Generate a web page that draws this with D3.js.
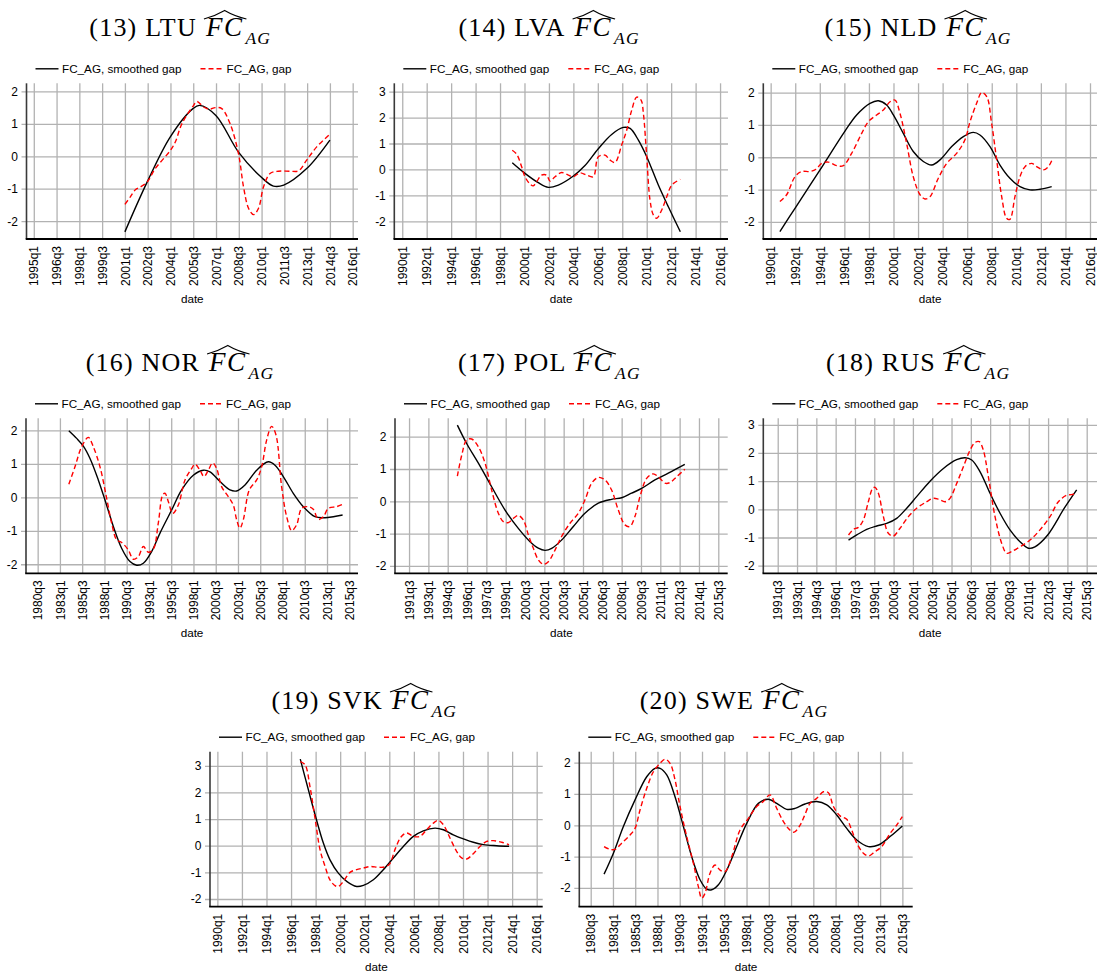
<!DOCTYPE html>
<html><head><meta charset="utf-8">
<script src="https://cdn.jsdelivr.net/npm/d3@7"></script>
<style>body{margin:0;background:#fff}svg{display:block}</style>
</head><body><svg id="c" width="1097" height="976"></svg>
<script>
// ---------------- DATA ----------------
const panelNums = ["(13)","(14)","(15)","(16)","(17)","(18)","(19)","(20)"];
const countries = ["LTU","LVA","NLD","NOR","POL","RUS","SVK","SWE"];
const seriesNames = ["FC_AG, smoothed gap","FC_AG, gap"];
const xTitle = "date";

const ticksA = ["1995q1","1996q3","1998q1","1999q3","2001q1","2002q3","2004q1","2005q3","2007q1","2008q3","2010q1","2011q3","2013q1","2014q3","2016q1"];
const ticksB = ["1990q1","1992q1","1994q1","1996q1","1998q1","2000q1","2002q1","2004q1","2006q1","2008q1","2010q1","2012q1","2014q1","2016q1"];
const ticksC = ["1980q3","1983q1","1985q3","1988q1","1990q3","1993q1","1995q3","1998q1","2000q3","2003q1","2005q3","2008q1","2010q3","2013q1","2015q3"];
const ticksD = ["1991q3","1993q1","1994q3","1996q1","1997q3","1999q1","2000q3","2002q1","2003q3","2005q1","2006q3","2008q1","2009q3","2011q1","2012q3","2014q1","2015q3"];
const yTicks2 = [-2,-1,0,1,2];
const yTicks3 = [-2,-1,0,1,2,3];

// LTU
const ltuSmoothT = [2001.0,2002.47,2003.99,2005.48,2005.92,2006.99,2008.48,2009.97,2010.78,2011.46,2012.97,2014.5];
const ltuSmoothV = [-2.33,-0.79,0.6,1.47,1.57,1.26,0.13,-0.64,-0.92,-0.89,-0.38,0.5];
const ltuGapT = [2001.0,2001.36,2001.69,2002.01,2002.47,2003.0,2003.99,2004.32,2004.75,2005.48,2005.74,2006.18,2006.55,2006.95,2007.38,2007.93,2008.48,2008.81,2009.14,2009.47,2009.8,2010.13,2010.56,2011.11,2011.88,2012.43,2012.97,2013.63,2014.5];
const ltuGapV = [-1.48,-1.25,-1.03,-0.95,-0.79,-0.38,0.18,0.44,1.0,1.54,1.69,1.52,1.45,1.5,1.47,1.0,0.08,-0.94,-1.6,-1.8,-1.6,-0.94,-0.53,-0.46,-0.46,-0.45,-0.12,0.29,0.68];
// LVA
const lvaSmoothT = [1999.0,2000.04,2001.13,2001.95,2002.77,2004.0,2004.95,2006.04,2007.13,2008.09,2008.64,2009.32,2010.0,2010.95,2011.77,2012.75];
const lvaSmoothV = [0.26,-0.15,-0.51,-0.69,-0.6,-0.25,0.15,0.8,1.35,1.62,1.58,1.13,0.49,-0.6,-1.44,-2.4];
const lvaGapT = [1999.0,1999.36,1999.77,2000.04,2000.45,2000.72,2001.0,2001.4,2001.81,2002.09,2002.5,2003.04,2003.59,2004.0,2004.54,2005.09,2005.63,2006.04,2006.59,2007.0,2007.41,2007.95,2008.36,2008.77,2009.18,2009.54,2009.73,2010.0,2010.27,2010.55,2010.82,2011.23,2011.64,2012.05,2012.75];
const lvaGapV = [0.74,0.59,0.1,-0.28,-0.56,-0.63,-0.47,-0.22,-0.22,-0.45,-0.28,-0.12,-0.22,-0.28,-0.13,-0.22,-0.28,0.49,0.55,0.36,0.27,0.94,1.51,2.28,2.79,2.67,2.15,0.49,-1.18,-1.76,-1.88,-1.56,-1.05,-0.6,-0.38];
// NLD
const nldSmoothT = [1990.75,1991.98,1994.02,1996.05,1997.0,1998.09,1998.77,1999.44,1999.99,2000.8,2001.61,2002.43,2003.11,2003.79,2004.74,2005.69,2006.5,2007.04,2007.86,2008.67,2009.48,2010.3,2011.11,2011.93,2012.88];
const nldSmoothV = [-2.3,-1.58,-0.39,0.81,1.31,1.67,1.75,1.62,1.31,0.74,0.18,-0.13,-0.24,-0.08,0.33,0.64,0.77,0.69,0.33,-0.24,-0.65,-0.91,-1.01,-0.99,-0.91];
const nldGapT = [1990.75,1991.3,1991.98,1992.52,1993.2,1993.69,1994.15,1994.69,1995.37,1995.92,1996.59,1997.41,1997.95,1998.63,1999.17,1999.72,2000.12,2000.53,2001.07,2001.61,2002.16,2002.56,2002.97,2003.65,2004.33,2005.14,2005.82,2006.23,2006.77,2007.18,2007.59,2007.99,2008.4,2008.81,2009.21,2009.48,2009.89,2010.3,2010.71,2011.25,2011.66,2012.2,2012.61,2012.88];
const nldGapV = [-1.37,-1.16,-0.6,-0.44,-0.44,-0.37,-0.19,-0.15,-0.26,-0.26,0.12,0.74,1.1,1.31,1.46,1.72,1.77,1.36,0.43,-0.6,-1.16,-1.29,-1.22,-0.65,-0.19,0.12,0.54,1.1,1.67,2.0,1.88,1.05,-0.08,-1.22,-1.89,-1.92,-1.22,-0.6,-0.29,-0.19,-0.29,-0.39,-0.29,-0.11];
// NOR
const norSmoothT = [1984.0,1984.88,1985.63,1986.38,1987.31,1988.06,1989.0,1989.93,1990.87,1991.62,1992.37,1993.3,1994.24,1995.55,1996.67,1997.98,1999.11,1999.86,2000.98,2002.1,2002.85,2003.79,2005.1,2006.41,2007.16,2008.09,2009.21,2010.34,2011.65,2012.77,2013.71,2014.75];
const norSmoothV = [1.99,1.76,1.53,1.16,0.52,-0.08,-0.87,-1.52,-1.92,-2.03,-1.97,-1.62,-1.07,-0.38,0.22,0.66,0.81,0.76,0.47,0.22,0.19,0.37,0.81,1.06,0.96,0.62,0.12,-0.28,-0.58,-0.61,-0.58,-0.53];
const norGapT = [1984.0,1984.69,1985.44,1986.19,1986.75,1987.5,1988.25,1988.81,1989.37,1989.93,1990.68,1991.24,1991.81,1992.37,1992.93,1993.49,1994.05,1994.54,1994.8,1995.18,1995.66,1996.3,1997.05,1997.8,1998.17,1998.73,1999.18,1999.67,2000.16,2000.6,2001.16,2001.91,2002.47,2002.85,2003.22,2003.6,2004.27,2005.1,2005.66,2006.22,2006.78,2007.27,2007.9,2008.47,2009.03,2009.59,2010.15,2010.9,2011.46,2012.02,2012.59,2013.15,2014.08,2014.75];
const norGapV = [0.39,0.91,1.51,1.79,1.51,0.91,-0.03,-0.77,-1.27,-1.35,-1.57,-1.85,-1.77,-1.47,-1.64,-1.55,-0.77,0.07,0.12,-0.13,-0.48,-0.23,0.52,0.86,0.99,0.81,0.62,0.81,1.03,0.86,0.32,0.02,-0.23,-0.67,-0.92,-0.67,0.22,0.52,0.91,1.71,2.12,1.86,0.32,-0.58,-0.99,-0.82,-0.33,-0.28,-0.36,-0.66,-0.58,-0.33,-0.28,-0.21];
// POL
const polSmoothT = [1995.25,1995.97,1996.88,1997.91,1998.95,1999.98,2000.89,2001.53,2002.05,2002.57,2003.34,2004.25,2005.15,2006.19,2007.22,2008.0,2008.77,2009.55,2010.58,2011.62,2012.9];
const polSmoothV = [2.36,1.79,1.18,0.45,-0.27,-0.84,-1.25,-1.45,-1.52,-1.46,-1.2,-0.78,-0.37,-0.06,0.06,0.11,0.25,0.4,0.66,0.87,1.14];
const polGapT = [1995.25,1995.59,1995.97,1996.36,1996.88,1997.4,1997.91,1998.43,1998.82,1999.21,1999.59,1999.98,2000.37,2000.76,2001.14,2001.53,2001.92,2002.31,2002.83,2003.34,2003.99,2004.64,2005.15,2005.67,2006.19,2006.71,2007.22,2007.74,2008.26,2008.64,2009.03,2009.42,2009.94,2010.45,2010.97,2011.36,2011.75,2012.27,2012.9];
const polGapV = [0.78,1.43,1.9,1.93,1.69,1.18,0.35,-0.37,-0.63,-0.66,-0.53,-0.44,-0.58,-1.04,-1.45,-1.81,-1.95,-1.87,-1.51,-1.09,-0.68,-0.37,0.04,0.56,0.74,0.66,0.35,-0.27,-0.73,-0.78,-0.47,0.14,0.71,0.85,0.71,0.56,0.58,0.76,0.99];
// RUS
const rusSmoothT = [1997.0,1997.64,1998.41,1999.19,1999.96,2000.74,2001.52,2002.29,2003.33,2004.37,2005.4,2006.05,2006.57,2007.21,2007.99,2008.77,2009.54,2010.32,2010.97,2011.48,2012.47,2013.76,2014.72];
const rusSmoothV = [-1.09,-0.91,-0.71,-0.59,-0.5,-0.32,0.04,0.45,1.0,1.45,1.76,1.83,1.75,1.34,0.57,-0.14,-0.73,-1.15,-1.38,-1.33,-0.91,0.04,0.69];
const rusGapT = [1997.0,1997.38,1997.76,1998.15,1998.54,1998.88,1999.06,1999.32,1999.71,2000.09,2000.48,2001.0,2001.65,2002.29,2003.07,2003.59,2003.98,2004.5,2004.88,2005.4,2005.92,2006.44,2006.82,2007.16,2007.47,2007.86,2008.38,2008.9,2009.28,2009.67,2010.32,2011.1,2011.87,2012.65,2013.3,2013.94,2014.3,2014.72];
const rusGapV = [-0.91,-0.71,-0.64,-0.38,0.27,0.75,0.78,0.57,-0.26,-0.85,-0.95,-0.67,-0.26,0.04,0.27,0.39,0.36,0.27,0.39,0.92,1.51,2.1,2.37,2.4,2.1,1.16,-0.26,-1.21,-1.56,-1.5,-1.33,-1.09,-0.73,-0.26,0.27,0.5,0.52,0.57];
// SVK
const svkSmoothT = [1996.75,1997.41,1998.03,1998.63,1999.17,1999.85,2000.53,2001.34,2001.89,2002.7,2003.51,2004.33,2005.14,2005.96,2006.77,2007.72,2008.4,2009.21,2010.03,2010.84,2011.66,2012.74,2013.75];
const svkSmoothV = [3.25,2.1,1.04,0.1,-0.53,-1.03,-1.34,-1.53,-1.49,-1.28,-0.9,-0.46,-0.03,0.35,0.56,0.66,0.6,0.41,0.26,0.13,0.04,0.0,-0.02];
const svkGapT = [1996.75,1997.14,1997.54,1997.95,1998.36,1998.77,1999.17,1999.58,1999.85,2000.26,2000.8,2001.34,2001.89,2002.43,2003.11,2003.6,2004.0,2004.5,2004.95,2005.41,2005.96,2006.5,2007.04,2007.59,2007.99,2008.4,2008.94,2009.48,2009.89,2010.3,2010.84,2011.38,2011.93,2012.47,2013.15,2013.75];
const svkGapV = [3.16,3.04,2.22,1.04,-0.15,-0.78,-1.28,-1.5,-1.53,-1.34,-1.0,-0.9,-0.84,-0.78,-0.81,-0.8,-0.7,-0.1,0.33,0.48,0.35,0.35,0.6,0.85,0.95,0.79,0.29,-0.21,-0.46,-0.5,-0.3,-0.03,0.16,0.19,0.13,0.04];
// SWE
const sweSmoothT = [1982.0,1983.05,1984.17,1985.48,1986.79,1987.73,1988.29,1989.04,1989.97,1990.91,1991.84,1992.78,1993.53,1994.09,1994.84,1995.78,1996.9,1998.02,1999.33,2000.46,2001.39,2002.51,2003.45,2004.57,2005.88,2007.01,2008.13,2009.25,2010.38,2011.69,2012.81,2014.12,2015.5];
const sweSmoothV = [-1.56,-0.89,-0.04,0.81,1.55,1.82,1.82,1.61,0.91,-0.04,-1.0,-1.74,-2.04,-2.06,-1.9,-1.43,-0.68,0.06,0.7,0.83,0.7,0.51,0.54,0.68,0.76,0.65,0.33,-0.1,-0.47,-0.68,-0.63,-0.36,-0.02];
const sweGapT = [1982.0,1982.67,1983.23,1983.98,1984.92,1985.48,1986.04,1986.79,1987.54,1988.29,1988.85,1989.41,1989.97,1990.53,1991.28,1992.03,1992.59,1992.97,1993.34,1993.9,1994.46,1995.03,1995.59,1996.34,1997.27,1998.21,1999.14,1999.89,2000.64,2001.39,2002.14,2002.8,2003.35,2004.0,2004.5,2005.13,2005.88,2006.63,2007.19,2007.76,2008.5,2009.25,2009.81,2010.38,2011.12,2011.69,2012.43,2013.18,2014.12,2014.87,2015.5];
const sweGapV = [-0.68,-0.77,-0.77,-0.57,-0.31,-0.1,0.49,1.18,1.71,1.98,2.11,1.98,1.45,0.6,-0.36,-1.21,-1.96,-2.33,-2.17,-1.53,-1.27,-1.43,-1.48,-1.0,-0.15,0.22,0.6,0.76,0.97,0.54,0.12,-0.13,-0.22,0.0,0.3,0.7,0.86,1.07,1.04,0.6,0.3,0.19,-0.15,-0.57,-0.89,-0.98,-0.84,-0.68,-0.26,0.01,0.28];

// ---------------- LAYOUT (positions / axis ranges) ----------------
const boxes = [
  {left:26.5, right:358,  top:83.3,  bottom:239,   xr:[1994.52,2016.35], yr:[-2.55,2.25], tb:36},
  {left:394.3,right:728,  top:83.3,  bottom:239,   xr:[1989.35,2016.65], yr:[-2.68,3.32], tb:36},
  {left:763.3,right:1097, top:83.3,  bottom:239,   xr:[1989.4,2016.57],  yr:[-2.53,2.29], tb:36},
  {left:26,   right:358,  top:418.3, bottom:573.3, xr:[1979.19,2016.48], yr:[-2.27,2.36], tb:371},
  {left:395,  right:727.7,top:418.3, bottom:573.3, xr:[1990.41,2016.23], yr:[-2.23,2.57], tb:371},
  {left:763.3,right:1097, top:418.3, bottom:573.3, xr:[1990.38,2016.3],  yr:[-2.27,3.23], tb:371},
  {left:210,  right:542.7,top:751.7, bottom:906.7, xr:[1989.4,2016.49],  yr:[-2.29,3.53], tb:709},
  {left:579.3,right:912.7,top:751.7, bottom:906.7, xr:[1979.22,2016.66], yr:[-2.6,2.35],  tb:709}
];

const panels = [
  {xTicks:ticksA, yTicks:yTicks2, sT:ltuSmoothT, sV:ltuSmoothV, gT:ltuGapT, gV:ltuGapV},
  {xTicks:ticksB, yTicks:yTicks3, sT:lvaSmoothT, sV:lvaSmoothV, gT:lvaGapT, gV:lvaGapV},
  {xTicks:ticksB, yTicks:yTicks2, sT:nldSmoothT, sV:nldSmoothV, gT:nldGapT, gV:nldGapV},
  {xTicks:ticksC, yTicks:yTicks2, sT:norSmoothT, sV:norSmoothV, gT:norGapT, gV:norGapV},
  {xTicks:ticksD, yTicks:yTicks2, sT:polSmoothT, sV:polSmoothV, gT:polGapT, gV:polGapV},
  {xTicks:ticksD, yTicks:yTicks3, sT:rusSmoothT, sV:rusSmoothV, gT:rusGapT, gV:rusGapV},
  {xTicks:ticksB, yTicks:yTicks3, sT:svkSmoothT, sV:svkSmoothV, gT:svkGapT, gV:svkGapV},
  {xTicks:ticksC, yTicks:yTicks2, sT:sweSmoothT, sV:sweSmoothV, gT:sweGapT, gV:sweGapV}
];

// ---------------- DRAW ----------------
const svg = d3.select("#c");
const SANS = "'Liberation Sans', Arial, Helvetica, sans-serif";
const SERIF = "'Liberation Serif', 'Times New Roman', serif";
const GRID = "#b2b2b2";
const FS = 11.7;
const q = s => { const m = /^(\d{4})q([1-4])$/.exec(s); return +m[1] + (+m[2] - 1) / 4; };

panels.forEach((p, i) => {
  const L = boxes[i];
  const w = L.right - L.left, h = L.bottom - L.top;
  const x = d3.scaleLinear().domain(L.xr).range([L.left, L.right]);
  const y = d3.scaleLinear().domain(L.yr).range([L.bottom, L.top]);
  const g = svg.append("g");

  // y gridlines + labels
  const ya = g.append("g").attr("transform", `translate(${L.left - 5},0)`)
    .call(d3.axisLeft(y).tickValues(p.yTicks).tickSize(-(w + 5)).tickPadding(3.5).tickFormat(d => String(d)));
  ya.select(".domain").remove();
  ya.selectAll(".tick line").attr("stroke", GRID).attr("stroke-width", 1.3);
  ya.selectAll(".tick text").attr("font-family", SANS).attr("font-size", 12).attr("fill", "#000");

  // x gridlines + rotated labels
  const xa = g.append("g").attr("transform", `translate(0,${L.bottom})`)
    .call(d3.axisBottom(x).tickValues(p.xTicks.map(q)).tickSize(-h).tickFormat((d, k) => p.xTicks[k]));
  xa.select(".domain").remove();
  xa.selectAll(".tick line").attr("stroke", GRID).attr("stroke-width", 1.3);
  xa.selectAll(".tick text")
    .attr("font-family", SANS).attr("font-size", 12).attr("fill", "#000")
    .attr("transform", "rotate(-90)").attr("text-anchor", "end")
    .attr("x", -7).attr("y", 0).attr("dy", "0.35em");

  // axis lines
  g.append("line").attr("x1", L.left).attr("x2", L.left).attr("y1", L.top).attr("y2", L.bottom)
    .attr("stroke", "#3a3a3a").attr("stroke-width", 1.6);
  g.append("line").attr("x1", L.left - 0.8).attr("x2", L.right).attr("y1", L.bottom).attr("y2", L.bottom)
    .attr("stroke", "#000").attr("stroke-width", 1.8);

  // series
  const line = d3.line().x(d => x(d[0])).y(d => y(d[1])).curve(d3.curveCatmullRom.alpha(0.5));
  g.append("path").datum(d3.zip(p.sT, p.sV)).attr("d", line)
    .attr("fill", "none").attr("stroke", "#000").attr("stroke-width", 1.4);
  g.append("path").datum(d3.zip(p.gT, p.gV)).attr("d", line)
    .attr("fill", "none").attr("stroke", "#ff0000").attr("stroke-width", 1.4).attr("stroke-dasharray", "5,3");

  // legend
  const lx = L.left + 9, ly = L.top - 14.5;
  const lg = g.append("g").attr("font-family", SANS).attr("font-size", FS);
  lg.append("line").attr("x1", lx).attr("x2", lx + 23).attr("y1", ly).attr("y2", ly).attr("stroke", "#000").attr("stroke-width", 1.4);
  lg.append("text").attr("x", lx + 26.5).attr("y", ly).attr("dy", "0.35em").text(seriesNames[0]);
  lg.append("line").attr("x1", lx + 165).attr("x2", lx + 188).attr("y1", ly).attr("y2", ly)
    .attr("stroke", "#ff0000").attr("stroke-width", 1.4).attr("stroke-dasharray", "5,3");
  lg.append("text").attr("x", lx + 191).attr("y", ly).attr("dy", "0.35em").text(seriesNames[1]);

  // x title
  g.append("text").attr("x", (L.left + L.right) / 2).attr("y", L.bottom + 64)
    .attr("text-anchor", "middle").attr("font-family", SANS).attr("font-size", FS).text(xTitle);

  // panel title: "(13) LTU" + FC with wide hat + subscript AG
  const tg = g.append("g").attr("font-family", SERIF).attr("fill", "#000");
  const t1 = tg.append("text").attr("x", 0).attr("y", 0).attr("font-size", 26).attr("letter-spacing", 1.2)
    .text(`${panelNums[i]} ${countries[i]}`);
  const w1 = t1.node().getComputedTextLength();
  const fx = w1 + 9;
  const t2 = tg.append("text").attr("x", fx).attr("y", 0).attr("font-size", 27).attr("font-style", "italic")
    .attr("letter-spacing", 1.5).text("FC");
  const w2 = t2.node().getComputedTextLength();
  tg.append("path")
    .attr("d", `M${fx - 2},-17 Q${fx + w2 * 0.25},-20 ${fx + w2 / 2},-25.5 Q${fx + w2 * 0.75},-20 ${fx + w2 + 3},-17`)
    .attr("fill", "none").attr("stroke", "#000").attr("stroke-width", 1.1);
  const t3 = tg.append("text").attr("x", fx + w2 + 2).attr("y", 8).attr("font-size", 17.5).attr("font-style", "italic")
    .attr("letter-spacing", 1.2).text("AG");
  const total = fx + w2 + 2 + t3.node().getComputedTextLength();
  const cx = (L.left + L.right) / 2 - 12;
  tg.attr("transform", `translate(${cx - total / 2},${L.tb})`);
});
</script></body></html>
